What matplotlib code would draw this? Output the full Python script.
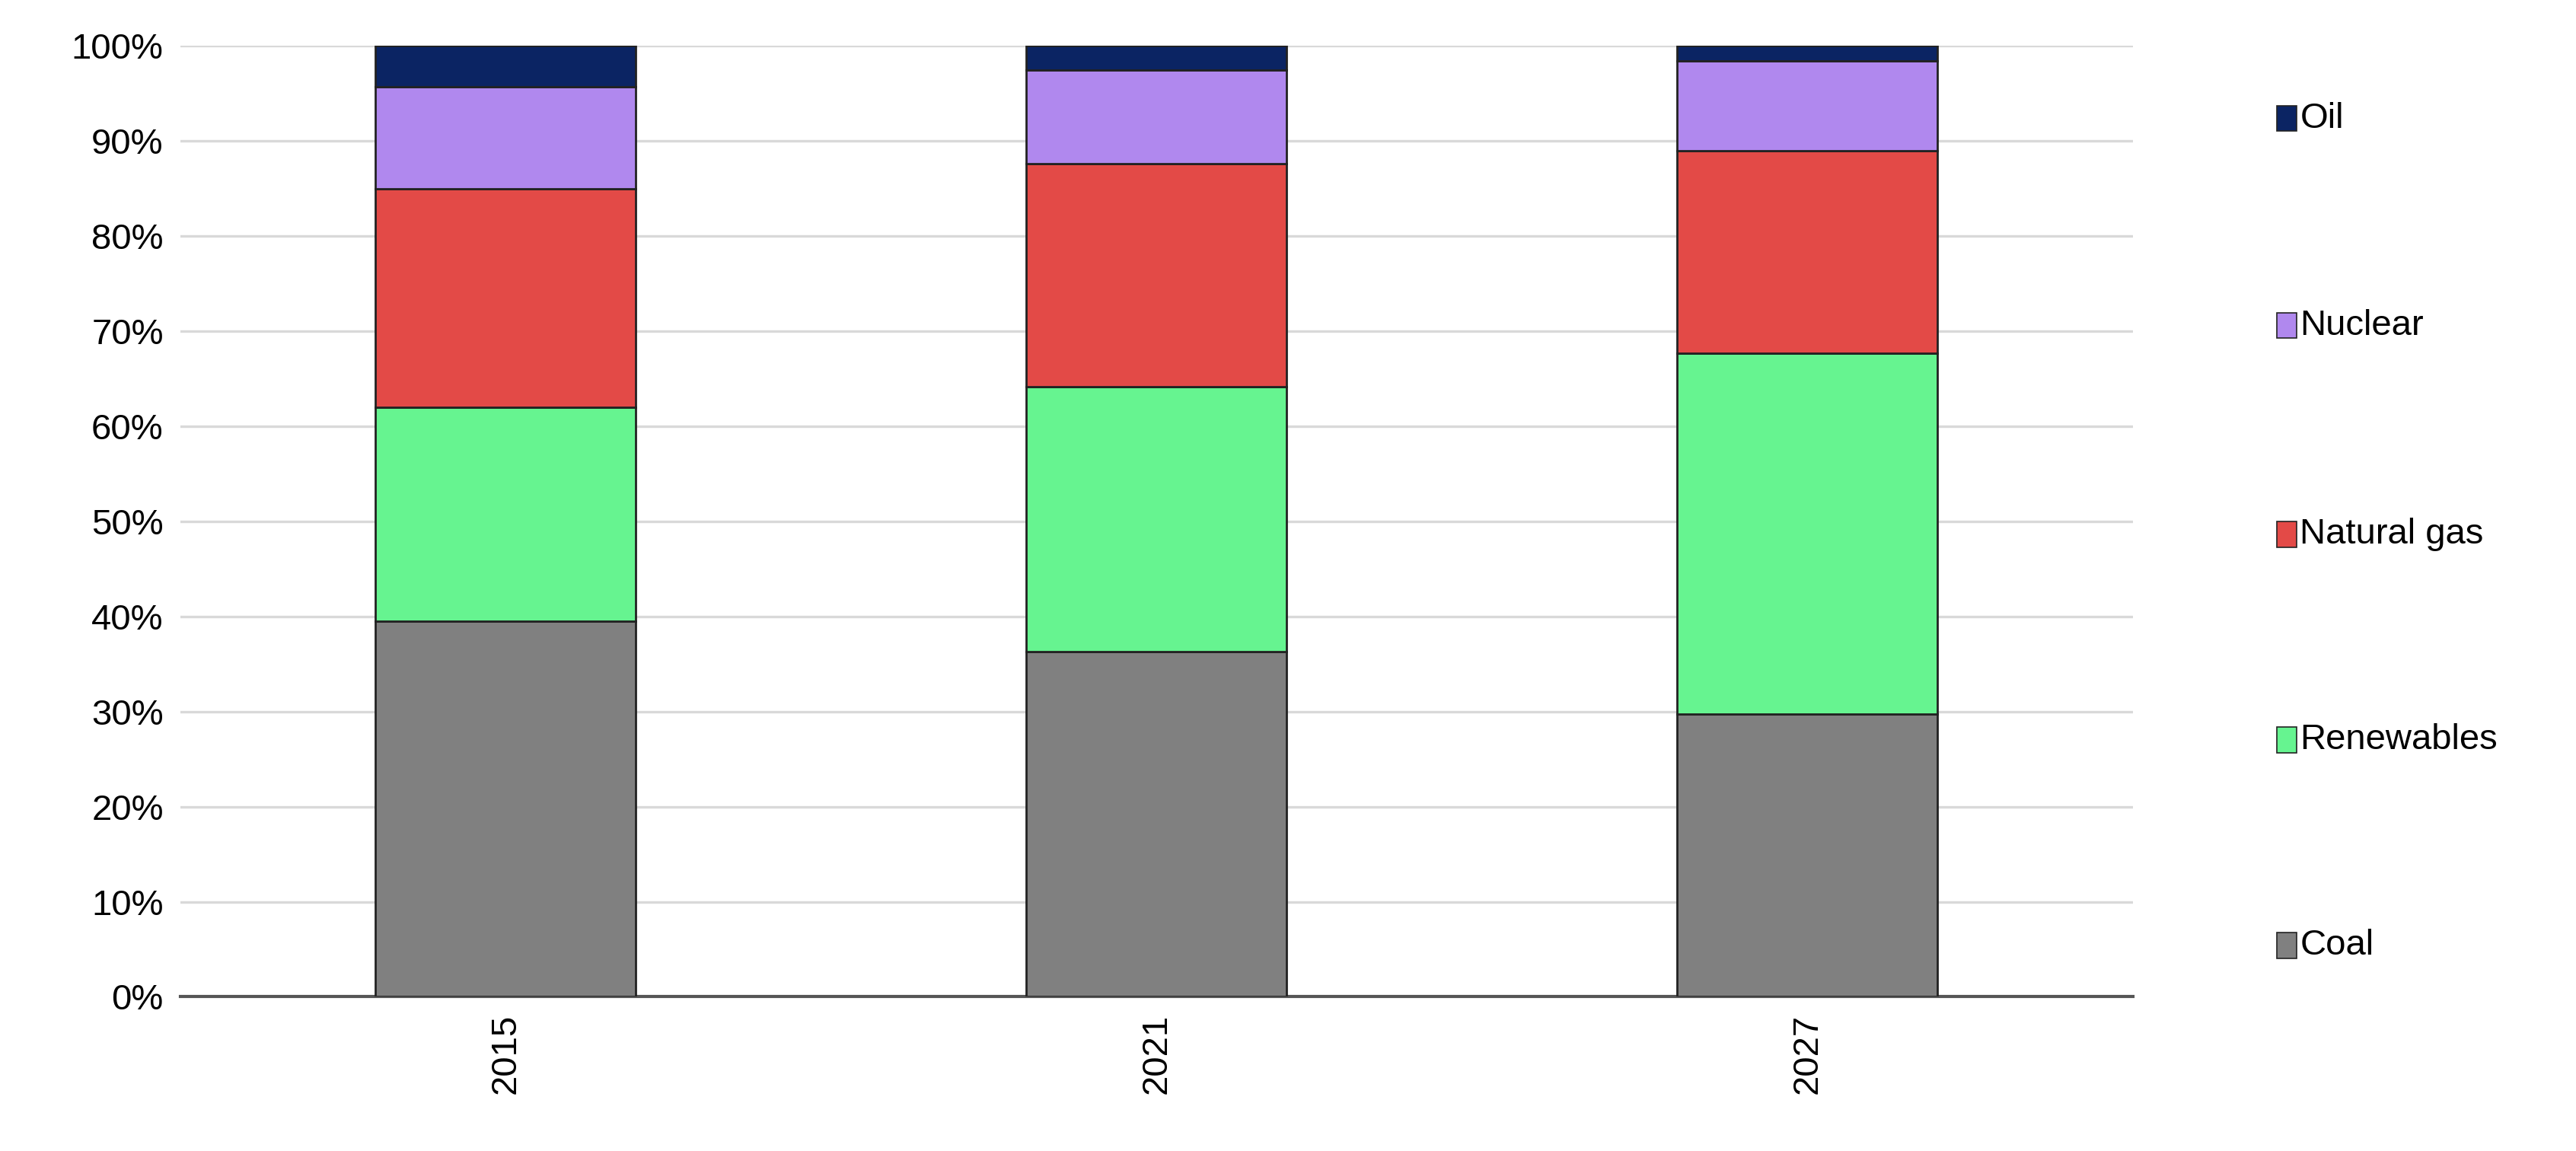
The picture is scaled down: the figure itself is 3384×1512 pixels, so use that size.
import matplotlib
matplotlib.use("Agg")
import matplotlib.pyplot as plt
import numpy as np

years = ["2015", "2021", "2027"]
series = ["Coal", "Renewables", "Natural gas", "Nuclear", "Oil"]
coal = [39.5, 36.3, 29.7]
renewables = [22.5, 27.9, 38.0]
natural_gas = [23.0, 23.4, 21.3]
nuclear = [10.7, 9.9, 9.4]
oil = [4.3, 2.5, 1.6]
values = [coal, renewables, natural_gas, nuclear, oil]
colors = ["#808080", "#66F490", "#E34A47", "#B088EE", "#0B2463"]

plt.rcParams['font.family'] = ['Liberation Sans', 'DejaVu Sans']
fig = plt.figure(figsize=(16.92, 7.56), dpi=200)
ax = fig.add_axes([0.070, 0.134, 0.758, 0.826])
x = np.arange(len(years))
bottom = np.zeros(len(years))
for name, vals, c in zip(series, values, colors):
    ax.bar(x, vals, 0.4, bottom=bottom, color=c, edgecolor="#222222", linewidth=1.0, zorder=3)
    bottom += np.array(vals)

ax.set_xlim(-0.5, 2.5)
ax.set_ylim(0, 100)
ax.set_yticks(range(0, 101, 10))
ax.set_yticklabels([f"{v}%" for v in range(0, 101, 10)], fontsize=17)
ax.set_xticks(x)
ax.set_xticklabels(years, rotation=90, fontsize=17)
ax.yaxis.grid(True, color="#D9D9D9", linewidth=1.2, zorder=0)
for s in ["top", "right", "left"]:
    ax.spines[s].set_visible(False)
ax.spines["bottom"].set_color("#555555")
ax.spines["bottom"].set_linewidth(1.5)
ax.tick_params(axis="both", length=0, pad=8)

leg_y = [575, 450, 325, 198, 72]
for name, c, yy in zip(series, colors, leg_y):
    fy = 1 - yy / 700
    fig.patches.append(plt.Rectangle((1386 / 1568, fy - 0.011), 0.0075, 0.022,
                                     transform=fig.transFigure, facecolor=c,
                                     edgecolor="#222222", linewidth=0.6))
    fig.text(1400 / 1568, fy, name, fontsize=17, va="center", ha="left")

fig.savefig("out.png", dpi=200)
